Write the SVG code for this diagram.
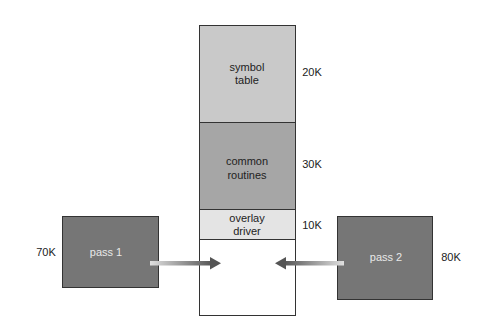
<svg xmlns="http://www.w3.org/2000/svg" width="480" height="336" viewBox="0 0 480 336">
<style>
.t{font-family:"Liberation Sans",Arial,sans-serif;font-size:11px;fill:#222;text-anchor:middle}
.w{fill:#e8e8e8}
.seg{stroke:#333;stroke-width:1}
.pass{fill:#767676;stroke:#333;stroke-width:1}
</style>
<defs>
<linearGradient id="gR" x1="0" x2="1" y1="0" y2="0"><stop offset="0" stop-color="#e0e0e0"/><stop offset="1" stop-color="#555"/></linearGradient>
<linearGradient id="gL" x1="1" x2="0" y1="0" y2="0"><stop offset="0" stop-color="#e0e0e0"/><stop offset="1" stop-color="#555"/></linearGradient>
</defs>
<rect width="480" height="336" fill="#fff"/>
<g id="symbol-table"><rect class="seg" x="199.5" y="25.5" width="96" height="97" fill="#c9c9c9"/><text class="t" x="247" y="71">symbol</text><text class="t" x="247" y="84">table</text></g>
<g id="common-routines"><rect class="seg" x="199.5" y="122.5" width="96" height="87" fill="#a6a6a6"/><text class="t" x="247" y="165">common</text><text class="t" x="247" y="179">routines</text></g>
<g id="overlay-driver"><rect class="seg" x="199.5" y="209.5" width="96" height="30" fill="#e4e4e4"/><text class="t" x="247" y="222">overlay</text><text class="t" x="247" y="235">driver</text></g>
<g id="free"><rect class="seg" x="199.5" y="239.5" width="96" height="76" fill="#fff"/></g>
<g id="sizes"><text class="t" x="312" y="76">20K</text><text class="t" x="312" y="168">30K</text><text class="t" x="312" y="229">10K</text><text class="t" x="46" y="256">70K</text><text class="t" x="451" y="261">80K</text></g>
<g id="pass1"><rect class="pass" x="62.5" y="216.5" width="96" height="71"/><text class="t w" x="106" y="256">pass 1</text></g>
<g id="pass2"><rect class="pass" x="337.5" y="216.5" width="95" height="83"/><text class="t w" x="386" y="261">pass 2</text></g>
<g id="connectors">
<rect x="150" y="261" width="62" height="4.5" fill="url(#gR)"/>
<polygon points="210,257 221,263.2 210,269.5" fill="#555"/>
<rect x="284" y="261" width="60" height="4.5" fill="url(#gL)"/>
<polygon points="286,257 275,263.2 286,269.5" fill="#555"/>
</g>
</svg>
